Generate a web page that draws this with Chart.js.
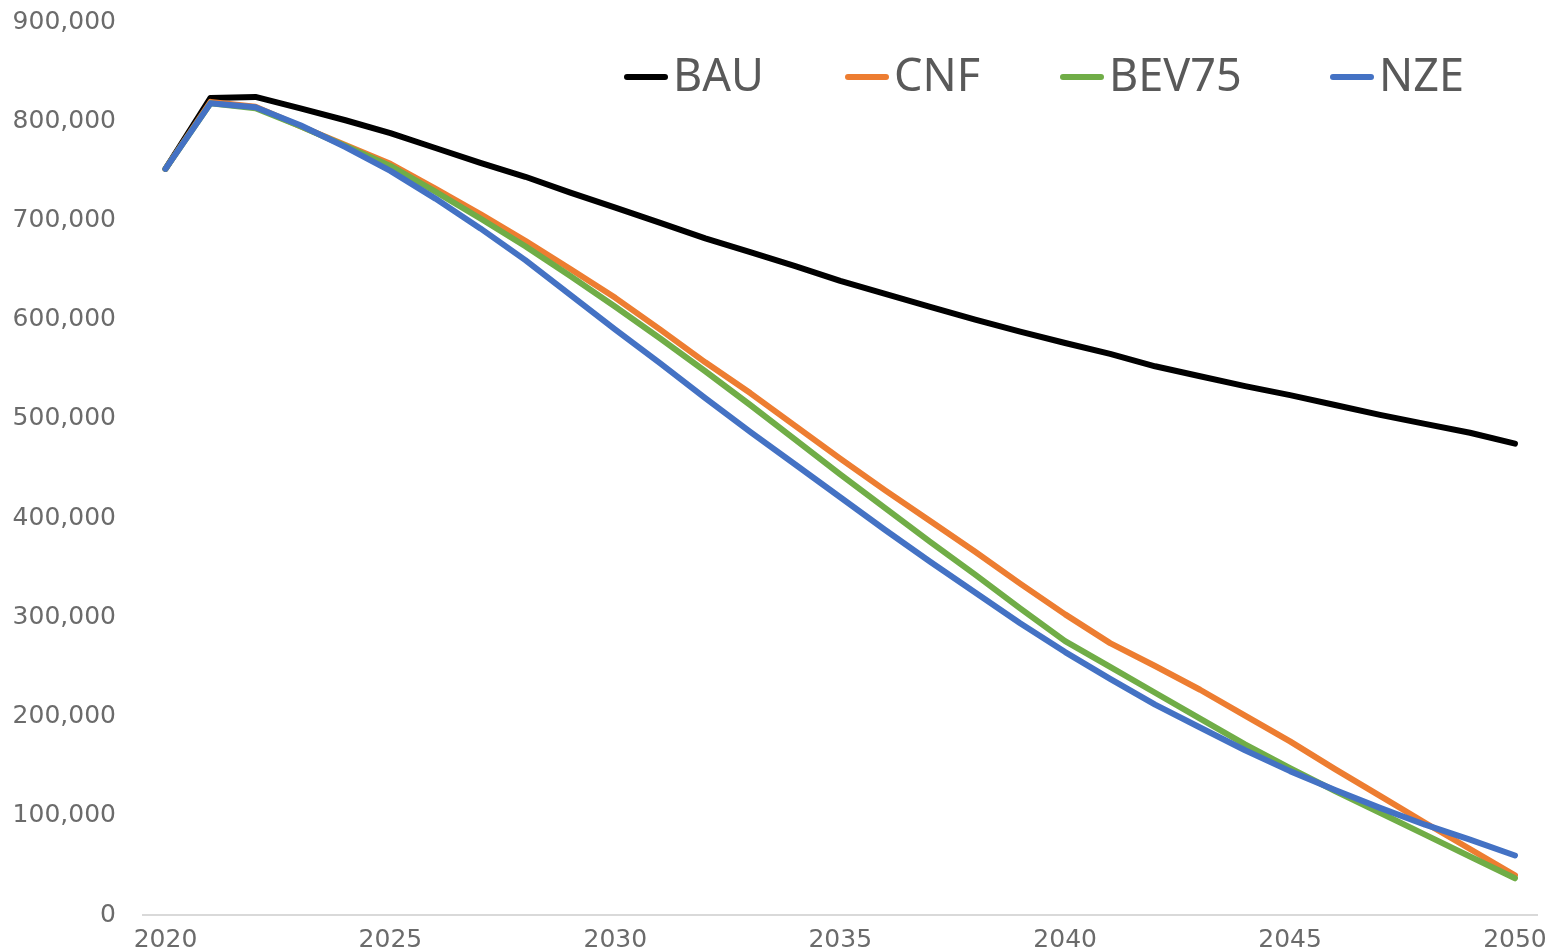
<!DOCTYPE html>
<html>
<head>
<meta charset="utf-8">
<script src="https://cdn.jsdelivr.net/npm/chart.js@4"></script>
<style>
  html, body { margin: 0; padding: 0; background: #ffffff; overflow: hidden; }
  #wrap { position: relative; width: 1557px; height: 951px; }
</style>
</head>
<body>
<div id="wrap"><canvas id="c"></canvas></div>
<script>
// Years on the category axis
const years = [];
for (let y = 2020; y <= 2050; y++) years.push(String(y));

// Scenario series (one value per year, 2020–2050)
const bau = [752000, 823500, 824500, 813000, 801000, 788000, 773000, 758000, 744000, 728000,
             713000, 697500, 682000, 668000, 654000, 639000, 626000, 613000, 600000, 588000,
             576500, 565500, 553000, 543000, 533000, 524000, 514000, 504000, 495000, 486000,
             475000];
const cnf = [752000, 819500, 814500, 795000, 776000, 757000, 732000, 706500, 679500, 651000,
             622000, 590000, 557000, 526000, 493000, 460000, 428000, 397000, 366000, 334000,
             303000, 274000, 251000, 227000, 201000, 175000, 147000, 120000, 93000, 66500,
             40000];
const bev75 = [752000, 818000, 813000, 795000, 775000, 755000, 729000, 702000, 674000, 644000,
               613000, 581000, 548000, 514000, 479000, 444000, 410000, 376000, 343000, 309000,
               276000, 250000, 224000, 198000, 172000, 148000, 125000, 103000, 81000, 59000,
               37000];
const nze = [752000, 818000, 814000, 796000, 774000, 750000, 722000, 692000, 660000, 625000,
             590000, 556000, 521000, 487000, 454000, 421000, 388000, 356000, 325000, 294000,
             265000, 238000, 212000, 189000, 166000, 145000, 126000, 108000, 91000, 76000,
             60000];

// Series names and colours
const seriesNames = ['BAU', 'CNF', 'BEV75', 'NZE'];
const seriesColors = ['#000000', '#ED7D31', '#70AD47', '#4472C4'];

// Y axis range and step
const yMin = 0, yMax = 900000, yStep = 100000;

const tickFont = { family: "'DejaVu Sans', 'Noto Sans', sans-serif", size: 25 };
const tickColor = '#6b6b6b';

// Legend drawn inside the plot, near its top edge
const insideLegend = {
  id: 'insideLegend',
  afterDraw(chart, args, opts) {
    const ctx = chart.ctx;
    ctx.save();
    ctx.font = opts.font;
    ctx.textBaseline = 'middle';
    ctx.textAlign = 'left';
    chart.data.datasets.forEach((ds, i) => {
      const x = opts.starts[i];
      const y = opts.y;
      ctx.strokeStyle = ds.borderColor;
      ctx.lineWidth = 6;
      ctx.lineCap = 'round';
      ctx.beginPath();
      ctx.moveTo(x + 3, y);
      ctx.lineTo(x + opts.lineLen - 3, y);
      ctx.stroke();
      ctx.fillStyle = opts.color;
      ctx.fillText(ds.label, x + opts.lineLen + opts.gap, y + 1);
    });
    ctx.restore();
  }
};

const seriesData = [bau, cnf, bev75, nze];
const datasets = seriesNames.map((name, i) => ({
  label: name,
  data: seriesData[i],
  borderColor: seriesColors[i],
  backgroundColor: seriesColors[i],
  borderWidth: 6,
  pointRadius: 0,
  pointHoverRadius: 0,
  tension: 0,
  fill: false,
  borderCapStyle: 'round',
  borderJoinStyle: 'round',
  order: seriesNames.length - 1 - i
}));

new Chart(document.getElementById('c'), {
  type: 'line',
  data: { labels: years, datasets },
  options: {
    responsive: true,
    maintainAspectRatio: false,
    animation: false,
    devicePixelRatio: 1,
    layout: { padding: { top: 22, right: 14, bottom: 0, left: 0 } },
    plugins: {
      legend: { display: false },
      tooltip: { enabled: false },
      insideLegend: {
        starts: [624, 845, 1060, 1330],
        y: 77,
        lineLen: 44,
        gap: 5,
        font: "45px 'Noto Sans', 'DejaVu Sans', sans-serif",
        color: '#595959'
      }
    },
    scales: {
      x: {
        type: 'category',
        offset: true,
        grid: { display: false, drawTicks: false },
        border: { display: true, color: '#d9d9d9', width: 2 },
        ticks: {
          autoSkip: false,
          maxRotation: 0,
          minRotation: 0,
          padding: 10,
          font: tickFont,
          color: tickColor,
          callback: function (value, index) {
            const lab = this.getLabelForValue(value);
            return (Number(lab) - 2020) % 5 === 0 ? lab : null;
          }
        },
        afterFit(scale) { scale.height = 36; }
      },
      y: {
        min: yMin,
        max: yMax,
        grid: { display: false, drawTicks: false },
        border: { display: false },
        ticks: {
          stepSize: yStep,
          padding: 27,
          font: tickFont,
          color: tickColor,
          callback: (v) => Number(v).toLocaleString('en-US')
        },
        afterFit(scale) {
          scale.width = 143;
          scale.paddingTop = 0;
          scale.paddingBottom = 0;
        }
      }
    }
  },
  plugins: [insideLegend]
});
</script>
</body>
</html>
